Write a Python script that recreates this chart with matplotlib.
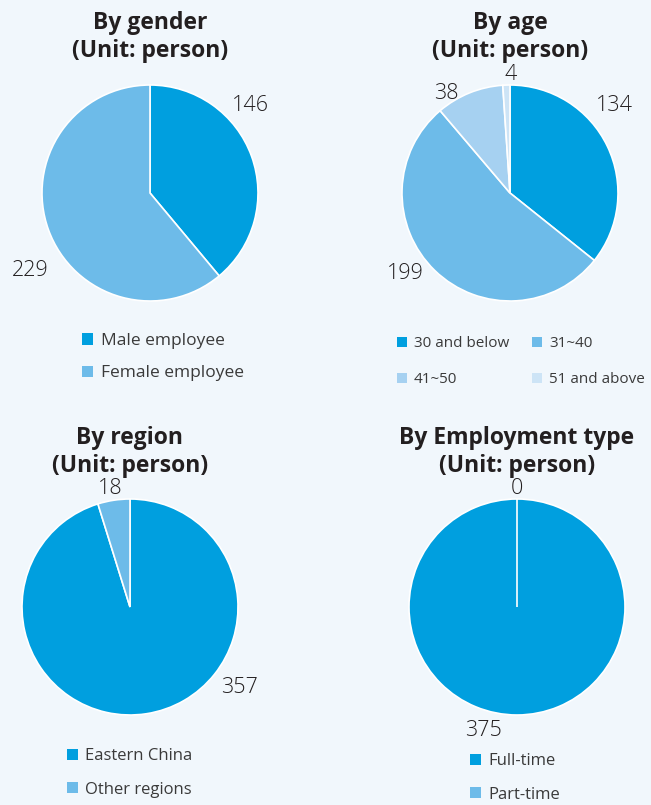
import matplotlib.pyplot as plt
from matplotlib.patches import Patch

plt.rcParams['font.family'] = ['Open Sans', 'DejaVu Sans']

W, H = 651, 805
BG = '#f1f7fc'
TXT = '#231f20'
C1, C2, C3, C4 = '#009fdf', '#6dbbe9', '#a6d1f1', '#cde4f6'

# data
gender_labels = ['Male employee', 'Female employee']
gender_values = [146, 229]

age_labels = ['30 and below', '31~40', '41~50', '51 and above']
age_values = [134, 199, 38, 4]

region_labels = ['Eastern China', 'Other regions']
region_values = [357, 18]

emp_labels = ['Full-time', 'Part-time']
emp_values = [375, 0]

fig = plt.figure(figsize=(W / 100, H / 100), dpi=100, facecolor=BG)


def pie_ax(cx, cy, r, values, colors):
    R = r * 1.25
    ax = fig.add_axes([(cx - R) / W, 1 - (cy + R) / H, 2 * R / W, 2 * R / H])
    ax.axis('off')
    ax.pie(values, colors=colors, startangle=90, counterclock=False, radius=r,
           center=(0, 0), frame=False,
           wedgeprops=dict(edgecolor='white', linewidth=1.2))
    ax.set_xlim(-R, R)
    ax.set_ylim(-R, R)
    return ax


def num(ax, cx, cy, x, y, s):
    ax.text(x - cx, cy - y, s, ha='center', va='center', fontsize=15.5,
            color=TXT, fontweight='light')


def title(x, y, s):
    fig.text(x / W, 1 - y / H, s, ha='center', va='center', fontsize=16.5,
             fontweight='bold', color=TXT)


def legend(x, y, labels, colors, ncol=1, fs=12, spacing=0.8, colsp=1.5):
    handles = [Patch(facecolor=c, edgecolor='none') for c in colors]
    fig.legend(handles, labels, loc='upper left',
               bbox_to_anchor=(x / W, 1 - y / H), ncol=ncol, frameon=False,
               fontsize=fs, labelcolor='#3a3a3a', handlelength=0.65,
               handleheight=0.65, handletextpad=0.45, labelspacing=spacing,
               columnspacing=colsp, borderpad=0, borderaxespad=0)


# gender
ax = pie_ax(150, 193, 108, gender_values, [C1, C2])
num(ax, 150, 193, 250, 105, '146')
num(ax, 150, 193, 30, 270, '229')
title(150, 23, 'By gender')
title(150, 51, '(Unit: person)')
legend(82, 333, gender_labels, [C1, C2], fs=12.5, spacing=0.95)

# age (legend is filled row by row)
ax = pie_ax(510, 193, 108, age_values, [C1, C2, C3, C4])
num(ax, 510, 193, 614, 105, '134')
num(ax, 510, 193, 405, 273, '199')
num(ax, 510, 193, 446, 93, '38')
num(ax, 510, 193, 511, 74, '4')
title(510, 23, 'By age')
title(510, 51, '(Unit: person)')
order = [0, 2, 1, 3]
legend(397, 336, [age_labels[i] for i in order],
       [[C1, C2, C3, C4][i] for i in order], ncol=2, fs=11,
       spacing=1.4, colsp=1.5)

# region
ax = pie_ax(130, 607, 108, region_values, [C1, C2])
num(ax, 130, 607, 110, 488, '18')
num(ax, 130, 607, 239, 687, '357')
title(130, 438, 'By region')
title(130, 466, '(Unit: person)')
legend(67, 748, region_labels, [C1, C2], fs=12, spacing=1.05)

# employment type
ax = pie_ax(517, 607, 108, emp_values, [C1, C2])
num(ax, 517, 607, 517, 488, '0')
num(ax, 517, 607, 484, 730, '375')
title(517, 438, 'By Employment type')
title(517, 466, '(Unit: person)')
legend(470, 753, emp_labels, [C1, C2], fs=12, spacing=1.05)

fig.savefig('out.png', dpi=100, facecolor=BG)
